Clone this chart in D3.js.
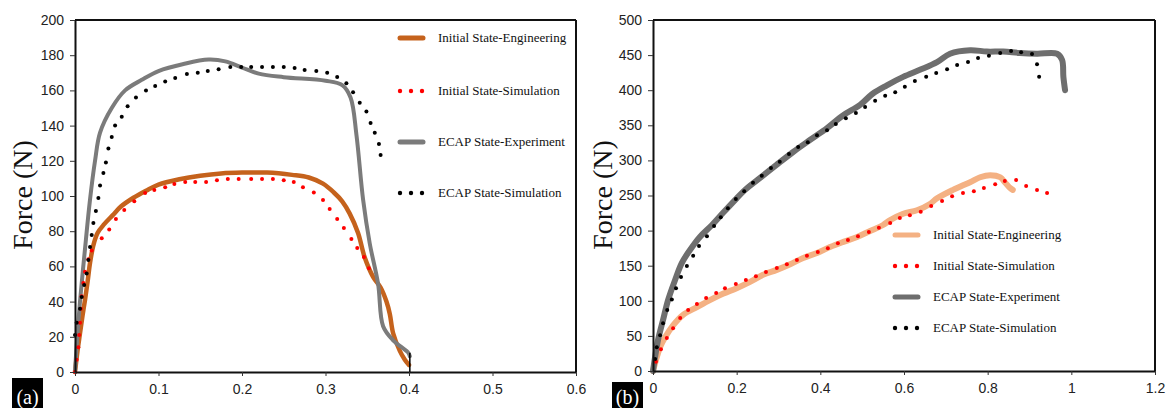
<!DOCTYPE html>
<html><head><meta charset="utf-8">
<script src="https://cdn.jsdelivr.net/npm/d3@7"></script>
<style>
html,body{margin:0;padding:0;background:#fff;}
svg{display:block;}
</style></head>
<body>
<svg id="chart" width="1171" height="408"></svg>
<script>
// ---------- DATA (panel a) ----------
const xTicksA = [0, 0.1, 0.2, 0.3, 0.4, 0.5, 0.6];
const yTicksA = [0, 20, 40, 60, 80, 100, 120, 140, 160, 180, 200];
const initialEngA = [[0,0],[0.003,12],[0.006,22],[0.009,32],[0.012,41],[0.015,51],[0.018,62],[0.022,72],[0.027,79],[0.035,84],[0.045,89],[0.055,94],[0.07,99],[0.085,103],[0.1,106.5],[0.125,109.5],[0.15,111.5],[0.175,112.8],[0.2,113.3],[0.23,113.3],[0.26,112],[0.28,110.5],[0.297,107],[0.31,102],[0.32,97],[0.329,90],[0.339,79],[0.347,65],[0.357,54],[0.366,48],[0.373,40],[0.377,33],[0.381,22],[0.389,12],[0.395,7],[0.4,4]];
const initialSimA = [[0,0],[0.002,7],[0.004,14],[0.005,21],[0.006,28],[0.007,36],[0.008,43],[0.010,50.5],[0.012,57],[0.016,64],[0.020,69],[0.032,76],[0.041,81],[0.049,87],[0.059,92],[0.071,97],[0.084,101.7],[0.095,103.4],[0.108,105],[0.119,106.8],[0.132,108],[0.144,108],[0.157,108],[0.170,109],[0.183,109.7],[0.196,109.7],[0.211,109.7],[0.224,109.7],[0.237,109.7],[0.250,109],[0.262,108],[0.273,105],[0.286,102],[0.297,97.7],[0.305,92.6],[0.314,87],[0.322,81.8],[0.331,75.6],[0.338,70.5],[0.346,65.3],[0.352,59]];
const ecapExpA = [[0,0],[0.002,15],[0.006,40],[0.012,70],[0.018,98],[0.024,120],[0.03,136],[0.044,150],[0.06,160],[0.08,166],[0.1,171],[0.13,175],[0.16,177.5],[0.18,176.5],[0.2,173],[0.22,169.5],[0.25,167.5],[0.3,165.5],[0.32,163],[0.33,156],[0.337,135],[0.345,98],[0.353,73],[0.363,50],[0.369,26],[0.381,18],[0.399,11],[0.401,9]];
const ecapSimA = [[0,21],[0.002,28],[0.006,36],[0.008,42.6],[0.011,49.4],[0.014,56],[0.016,63.6],[0.018,71],[0.020,77.8],[0.022,84.7],[0.025,91.5],[0.028,98.9],[0.030,106],[0.034,113],[0.037,119],[0.040,127],[0.044,133.5],[0.048,140],[0.056,145],[0.063,151],[0.073,156],[0.085,160],[0.096,162.5],[0.108,165],[0.120,167],[0.134,169.3],[0.147,170],[0.159,171],[0.172,172],[0.186,173.3],[0.199,173.3],[0.211,173.3],[0.224,173.3],[0.237,173.3],[0.250,173.3],[0.263,172.7],[0.275,171.6],[0.289,171],[0.302,170],[0.314,167.6],[0.325,164],[0.333,159],[0.341,153],[0.349,148],[0.354,141.5],[0.359,136],[0.364,129.5],[0.366,123.3]];
const endMarkA = [[0.401,0],[0.401,11]];

// ---------- DATA (panel b) ----------
const xTicksB = [0, 0.2, 0.4, 0.6, 0.8, 1, 1.2];
const yTicksB = [0, 50, 100, 150, 200, 250, 300, 350, 400, 450, 500];
const initialEngB = [[0,0],[0.005,11],[0.017,34],[0.029,48],[0.048,65],[0.072,80],[0.105,91],[0.136,101],[0.167,110],[0.2,118],[0.232,127],[0.263,137],[0.296,144],[0.328,152],[0.359,161],[0.392,168],[0.423,176.6],[0.455,184],[0.488,191],[0.519,199.4],[0.55,208],[0.567,215],[0.598,224],[0.631,229],[0.662,238],[0.679,246],[0.717,258],[0.758,269],[0.782,276],[0.806,279],[0.83,276],[0.841,269],[0.853,261],[0.86,258]];
const initialSimB = [[0.007,13],[0.019,31],[0.033,47],[0.048,61],[0.065,75.5],[0.084,87],[0.105,95.4],[0.127,104],[0.151,111],[0.172,118],[0.198,124],[0.222,129.6],[0.246,135],[0.27,141],[0.296,146.7],[0.32,152],[0.344,158],[0.368,164],[0.394,169.5],[0.418,175],[0.442,182],[0.466,186.6],[0.49,192],[0.516,198],[0.54,204],[0.567,211],[0.59,218],[0.614,222],[0.64,227],[0.665,235],[0.691,242],[0.715,249],[0.741,253.6],[0.767,256],[0.791,260.7],[0.818,266],[0.841,270.7],[0.868,272],[0.892,263.5],[0.918,258],[0.942,253.6]];
const ecapExpB = [[0,0],[0.005,20],[0.012,44],[0.024,72.6],[0.036,101],[0.053,130],[0.069,154],[0.088,172],[0.112,191],[0.141,208],[0.167,225],[0.2,246],[0.22,258],[0.256,275],[0.296,294],[0.335,312],[0.375,329],[0.416,346],[0.454,364],[0.495,379],[0.525,395],[0.559,407],[0.598,419],[0.638,429],[0.679,440],[0.71,452],[0.758,457],[0.798,455],[0.837,455],[0.877,453],[0.918,452],[0.966,452],[0.978,443],[0.981,419],[0.985,400]];
const ecapSimB = [[0.005,17],[0.009,34],[0.017,51],[0.024,68],[0.034,87],[0.045,102],[0.055,118],[0.067,134],[0.081,149.6],[0.096,164],[0.11,178],[0.129,192],[0.146,206.6],[0.162,219],[0.179,232],[0.198,245],[0.218,256],[0.239,268],[0.26,278],[0.282,289],[0.303,298],[0.325,309],[0.347,319],[0.37,326],[0.392,336],[0.416,343],[0.437,352],[0.461,360],[0.485,367.5],[0.507,376],[0.531,385],[0.555,392],[0.579,397],[0.602,405],[0.626,413],[0.653,419],[0.677,424.5],[0.703,430],[0.727,436],[0.753,440],[0.777,446],[0.803,449],[0.83,453],[0.856,456],[0.88,454],[0.906,451.5],[0.918,437],[0.923,419]];

const legendLabels = ["Initial State-Engineering","Initial State-Simulation","ECAP State-Experiment","ECAP State-Simulation"];

// ---------- DRAW ----------
const svg = d3.select("#chart");

function panel(cfg){
  const x = d3.scaleLinear().domain(cfg.xDomain).range(cfg.xRange);
  const y = d3.scaleLinear().domain(cfg.yDomain).range(cfg.yRange);
  const g = svg.append("g");

  g.append("line").attr("x1",x.range()[0]).attr("x2",x.range()[1]).attr("y1",y.range()[1]).attr("y2",y.range()[1])
    .attr("stroke","#111").attr("stroke-width",2);
  g.append("line").attr("x1",x.range()[1]).attr("x2",x.range()[1]).attr("y1",y.range()[1]).attr("y2",y.range()[0])
    .attr("stroke","#111").attr("stroke-width",2);

  const line = d3.line().x(d=>x(d[0])).y(d=>y(d[1])).curve(d3.curveCatmullRom.alpha(0.5));

  g.append("path").datum(cfg.eng).attr("d",line).attr("fill","none")
    .attr("stroke",cfg.engColor).attr("stroke-width",cfg.engWidth).attr("stroke-linejoin","round").attr("stroke-linecap","round");
  g.append("path").datum(cfg.exp).attr("d",line).attr("fill","none")
    .attr("stroke",cfg.expColor).attr("stroke-width",cfg.expWidth).attr("stroke-linejoin","round").attr("stroke-linecap","round");
  if(cfg.mark){
    g.append("path").datum(cfg.mark).attr("d",d3.line().x(d=>x(d[0])).y(d=>y(d[1])))
      .attr("stroke","#000").attr("stroke-width",1.5).attr("fill","none");
  }
  g.selectAll(".rs").data(cfg.sim).join("circle").attr("cx",d=>x(d[0])).attr("cy",d=>y(d[1])).attr("r",2).attr("fill","#ff0000");
  g.selectAll(".bs").data(cfg.esim).join("circle").attr("cx",d=>x(d[0])).attr("cy",d=>y(d[1])).attr("r",2).attr("fill","#000");

  const ax = g.append("g").attr("transform",`translate(0,${y.range()[0]})`)
    .call(d3.axisBottom(x).tickValues(cfg.xTicks).tickSize(4).tickPadding(8).tickFormat(d=>String(d)).tickSizeOuter(0));
  const ay = g.append("g").attr("transform",`translate(${x.range()[0]},0)`)
    .call(d3.axisLeft(y).tickValues(cfg.yTicks).tickSize(5).tickPadding(6).tickSizeOuter(0));
  [ax,ay].forEach(a=>{
    a.select(".domain").attr("stroke","#111").attr("stroke-width",2);
    a.selectAll(".tick line").attr("stroke","#333");
    a.selectAll(".tick text").attr("fill","#222").style("font-family","'Liberation Sans', Arial, sans-serif").style("font-size","14px");
  });

  g.append("text").attr("transform",`translate(${cfg.titleX},${cfg.titleY}) rotate(-90)`)
    .attr("text-anchor","middle").style("font-family","'Liberation Serif', 'Times New Roman', serif").style("font-size","28px")
    .attr("fill","#111").text("Force (N)");

  const lg = g.append("g");
  cfg.legY.forEach((ly,i)=>{
    const sx = cfg.legX;
    if(i===0 || i===2){
      lg.append("line").attr("x1",sx+2).attr("x2",sx+25).attr("y1",ly).attr("y2",ly)
        .attr("stroke", i===0?cfg.engColor:cfg.expColor).attr("stroke-width",5).attr("stroke-linecap","round");
    } else {
      [0,11,22].forEach(o=>{
        lg.append("circle").attr("cx",sx+2+o).attr("cy",ly).attr("r",2.2).attr("fill", i===1?"#ff0000":"#000");
      });
    }
    lg.append("text").attr("x",cfg.legTextX).attr("y",ly+4).style("font-family","'Liberation Serif', 'Times New Roman', serif")
      .style("font-size","13px").attr("fill","#111").text(legendLabels[i]);
  });

  g.append("rect").attr("x",cfg.tag[0]).attr("y",cfg.tag[1]).attr("width",31).attr("height",408-cfg.tag[1]).attr("fill","#000");
  g.append("text").attr("x",cfg.tag[0]+15.5).attr("y",404).attr("text-anchor","middle")
    .style("font-family","'Liberation Serif', 'Times New Roman', serif").style("font-size","20px").attr("fill","#fff").text(cfg.tagText);
}

panel({xDomain:[0,0.6], xRange:[75,576], yDomain:[0,200], yRange:[372,20],
  xTicks:xTicksA, yTicks:yTicksA, eng:initialEngA, sim:initialSimA, exp:ecapExpA, esim:ecapSimA, mark:endMarkA,
  engColor:"#c5621c", engWidth:4.5, expColor:"#7b7b7b", expWidth:4,
  titleX:32, titleY:195, legX:398, legTextX:438, legY:[38,91,142,193], tag:[12,378], tagText:"(a)"});

panel({xDomain:[0,1.2], xRange:[653,1155], yDomain:[0,500], yRange:[371,20],
  xTicks:xTicksB, yTicks:yTicksB, eng:initialEngB, sim:initialSimB, exp:ecapExpB, esim:ecapSimB,
  engColor:"#f4b183", engWidth:6, expColor:"#6e6e6e", expWidth:6,
  titleX:612, titleY:195, legX:893, legTextX:933, legY:[235,266,297,328], tag:[612,382], tagText:"(b)"});
</script>
</body></html>
